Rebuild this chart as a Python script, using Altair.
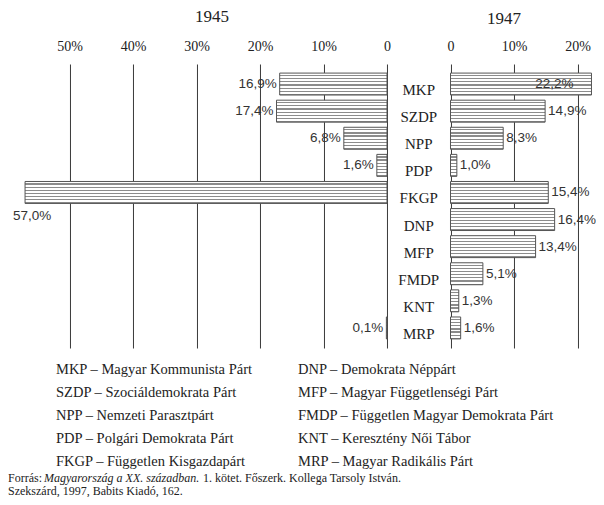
import altair as alt
import pandas as pd

# ---------------- data ----------------
parties = ["MKP", "SZDP", "NPP", "PDP", "FKGP", "DNP", "MFP", "FMDP", "KNT", "MRP"]
full_names = [
    "Magyar Kommunista Párt",
    "Szociáldemokrata Párt",
    "Nemzeti Parasztpárt",
    "Polgári Demokrata Párt",
    "Független Kisgazdapárt",
    "Demokrata Néppárt",
    "Magyar Függetlenségi Párt",
    "Független Magyar Demokrata Párt",
    "Keresztény Női Tábor",
    "Magyar Radikális Párt",
]
share_1945 = [16.9, 17.4, 6.8, 1.6, 57.0, None, None, None, None, 0.1]
share_1947 = [22.2, 14.9, 8.3, 1.0, 15.4, 16.4, 13.4, 5.1, 1.3, 1.6]
ticks_1945 = [50, 40, 30, 20, 10, 0]
ticks_1947 = [0, 10, 20]
year_titles = ["1945", "1947"]
source_prefix = "Forrás: "
source_book = "Magyarország a XX. században."
source_rest = "1. kötet. Főszerk. Kollega Tarsoly István."
source_line2 = "Szekszárd, 1997, Babits Kiadó, 162."

# ---------------- layout constants ----------------
PX = 6.35           # pixels per percentage point
GAP = 10            # units between the two zero lines
ZERO_L = 387        # page x of the 1945 zero line
CHART_RIGHT = 596   # page x of the chart's right edge
XMIN = -57.8
XMAX = (CHART_RIGHT - ZERO_L) / PX
PLOT_LEFT = ZERO_L + XMIN * PX
PLOT_TOP = 64
W = (XMAX - XMIN) * PX
H = 284
CHART_H = 489

SERIF = "Liberation Serif"
SANS = "Liberation Sans"


def fmt(v):
    return f"{v:.1f}".replace(".", ",") + "%"


df45 = pd.DataFrame({"party": parties, "value": share_1945}).dropna()
df45["label"] = df45["value"].map(fmt)
df47 = pd.DataFrame({"party": parties, "value": share_1947})
df47["label"] = df47["value"].map(fmt)
dfcat = pd.DataFrame({"party": parties})

axis_values = [-v for v in ticks_1945] + [GAP + v for v in ticks_1947]
label_expr = (
    f"datum.value <= 0 ? (datum.value == 0 ? '0' : (-datum.value) + '%') : "
    f"(datum.value == {GAP} ? '0' : (datum.value - {GAP}) + '%')"
)
xscale = alt.Scale(domain=[XMIN, XMAX], nice=False, zero=False)
xaxis = alt.Axis(
    orient="top", values=axis_values, labelExpr=label_expr, title=None,
    grid=True, gridColor="#3a3a3a", gridWidth=1, gridOpacity=1,
    domain=False, ticks=False, tickSize=0,
    labelFont=SERIF, labelFontSize=14, labelColor="#222",
    labelPadding=18, labelBaseline="middle", labelFlush=False,
)
yenc = alt.Y(
    "party:N", sort=parties,
    scale=alt.Scale(domain=parties, paddingInner=0.19, paddingOuter=0.335),
    axis=None,
)

# horizontal hatch as a hard-stop gradient
N = 7
stops = []
for k in range(N):
    a, b, c = k / N, (k + 0.62) / N, (k + 1) / N
    stops += [
        alt.GradientStop(offset=a, color="#ffffff"),
        alt.GradientStop(offset=b, color="#ffffff"),
        alt.GradientStop(offset=b, color="#8c8c8c"),
        alt.GradientStop(offset=c, color="#8c8c8c"),
    ]
hatch = alt.Gradient(gradient="linear", stops=stops, x1=0, x2=0, y1=0, y2=1)

base45 = alt.Chart(df45).transform_calculate(xneg="-datum.value", zero="0")
base47 = alt.Chart(df47).transform_calculate(
    start=f"{GAP}", end=f"{GAP} + datum.value"
)

bars45 = base45.mark_bar(fill=hatch, stroke="#555", strokeWidth=1).encode(
    x=alt.X("xneg:Q", scale=xscale, axis=xaxis), x2="zero:Q", y=yenc
)
bars47 = base47.mark_bar(fill=hatch, stroke="#555", strokeWidth=1).encode(
    x=alt.X("start:Q", scale=xscale, axis=xaxis), x2="end:Q", y=yenc
)

LBL = dict(baseline="middle", font=SANS, fontSize=13.5, color="#333")
lab45 = base45.transform_filter("datum.value <= 50").mark_text(
    align="right", dx=-3, **LBL
).encode(x=alt.X("xneg:Q", scale=xscale, axis=xaxis), y=yenc, text="label:N")
lab45_big = base45.transform_filter("datum.value > 50").mark_text(
    align="left", dx=-12, dy=24, **LBL
).encode(x=alt.X("xneg:Q", scale=xscale, axis=xaxis), y=yenc, text="label:N")

lab47 = base47.transform_filter("datum.value <= 20").mark_text(
    align="left", dx=3, **LBL
).encode(x=alt.X("end:Q", scale=xscale, axis=xaxis), y=yenc, text="label:N")
lab47_in = base47.transform_filter("datum.value > 20").mark_text(
    align="right", dx=-18, **LBL
).encode(x=alt.X("end:Q", scale=xscale, axis=xaxis), y=yenc, text="label:N")

cats = alt.Chart(dfcat).transform_calculate(mid=f"{GAP / 2}").mark_text(
    align="center", baseline="middle", dy=6, font=SERIF, fontSize=15, color="#222"
).encode(x=alt.X("mid:Q", scale=xscale, axis=xaxis), y=yenc, text="party:N")

one = pd.DataFrame({"k": [0]})


def free_text(text, px, py, size, font=SERIF, align="center", style="normal"):
    return alt.Chart(one).mark_text(
        text=text, align=align, baseline="middle", font=font, fontSize=size,
        fontStyle=style, color="#222",
    ).encode(x=alt.value(px - PLOT_LEFT), y=alt.value(py - PLOT_TOP))


titles = [
    free_text(year_titles[0], 212, 17, 17),
    free_text(year_titles[1], 504, 19, 17),
]

# party key below the chart
LEG_TOP, LEG_STEP = 370, 23
legend_layers = []
for i, (p, n) in enumerate(zip(parties, full_names)):
    col, row = divmod(i, 5)
    legend_layers.append(
        free_text(f"{p} – {n}", 56 if col == 0 else 298, LEG_TOP + row * LEG_STEP,
                  14.5, align="left")
    )

src = [
    free_text(source_prefix, 8, 477.5, 12, align="left"),
    free_text(source_book, 44, 477.5, 12, align="left", style="italic"),
    free_text(source_rest, 203, 477.5, 12, align="left"),
    free_text(source_line2, 8, 491, 12, align="left"),
]

chart = alt.layer(
    bars45, bars47, lab45, lab45_big, lab47, lab47_in, cats,
    *titles, *legend_layers, *src,
).properties(
    width=W, height=H,
    autosize=alt.AutoSizeParams(type="none"),
    padding={"left": PLOT_LEFT - 8, "top": PLOT_TOP - 8,
             "right": CHART_RIGHT - PLOT_LEFT - W,
             "bottom": CHART_H - (PLOT_TOP - 8) - H},
    background="white",
).configure_view(stroke=None)

chart.save("out.html", embed_options={"renderer": "svg", "actions": False})
